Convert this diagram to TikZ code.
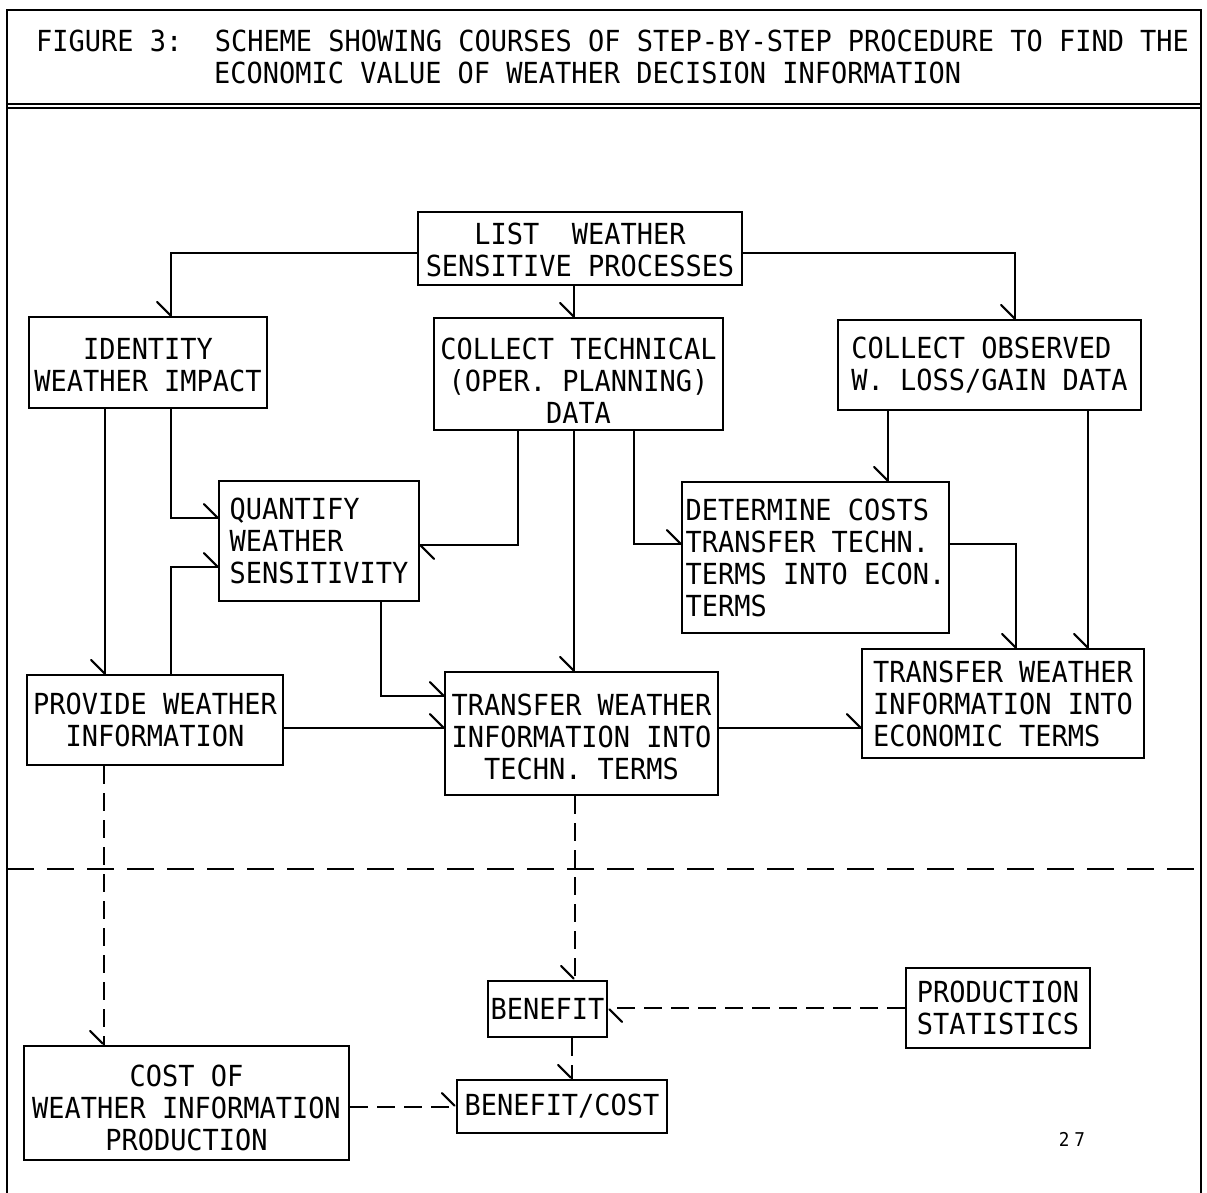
\documentclass[tikz,border=0pt]{standalone}
\usepackage{fontspec}
\newfontfamily\tw[FakeStretch=0.93]{DejaVu Sans Mono}
\usetikzlibrary{arrows.meta}

% Single-sided straight barbs, as on a drafting stencil.
% BarbL: barb on the left of the direction of travel; BarbR: on the right.
\pgfdeclarearrow{
  name = BarbL,
  parameters = {\the\pgfarrowlength},
  setup code = {
    \pgfarrowssettipend{0pt}
    \pgfarrowssetlineend{0pt}
    \pgfarrowssetbackend{-\pgfarrowlength}
    \pgfarrowssetvisualbackend{-\pgfarrowlength}
    \pgfarrowssavethe\pgfarrowlength
  },
  drawing code = {
    \pgfsetroundcap
    \pgfpathmoveto{\pgfqpoint{-\pgfarrowlength}{\pgfarrowlength}}
    \pgfpathlineto{\pgfpointorigin}
    \pgfusepathqstroke
  },
  defaults = {length = 14pt}
}
\pgfdeclarearrow{
  name = BarbR,
  parameters = {\the\pgfarrowlength},
  setup code = {
    \pgfarrowssettipend{0pt}
    \pgfarrowssetlineend{0pt}
    \pgfarrowssetbackend{-\pgfarrowlength}
    \pgfarrowssetvisualbackend{-\pgfarrowlength}
    \pgfarrowssavethe\pgfarrowlength
  },
  drawing code = {
    \pgfsetroundcap
    \pgfpathmoveto{\pgfqpoint{-\pgfarrowlength}{-\pgfarrowlength}}
    \pgfpathlineto{\pgfpointorigin}
    \pgfusepathqstroke
  },
  defaults = {length = 14pt}
}

% taller first line, which sets the text lower in its box
\newcommand{\lowerby}[1]{\rule{0pt}{#1}}

\begin{document}
\begin{tikzpicture}[x=1pt,y=-1pt,
  txt/.style={font=\tw\fontsize{29}{32}\selectfont},
  box/.style={txt, draw, line width=2.2pt, inner sep=0pt},
  boxc/.style 2 args={box, align=center, minimum width=#1, minimum height=#2},
  boxl/.style 2 args={box, align=left, minimum width=#1, minimum height=#2},
  link/.style={line width=2pt},
  down/.style={link, -{BarbR}},
  side/.style={link, -{BarbL}},
  brk/.style={dash pattern=on 18pt off 9pt},
  frame/.style={line width=2.6pt},
]
\useasboundingbox (0,0) rectangle (1207,1193);

% frame and title block
\coordinate (fTL) at (7,10);
\coordinate (fTR) at (1201,10);
\coordinate (fBL) at (7,1200);
\coordinate (fBR) at (1201,1200);
\coordinate (hL1) at (7,104);
\coordinate (hR1) at (1201,104);
\coordinate (hL2) at (7,108);
\coordinate (hR2) at (1201,108);
\coordinate (sepL) at (7,869);
\coordinate (sepR) at (1201,869);
\draw[frame] (fBL) -- (fTL) -- (fTR) -- (fBR);
\draw[line width=2pt] (hL1) -- (hR1);
\draw[line width=2pt] (hL2) -- (hR2);
\draw[link, dash pattern=on 27pt off 13pt] (sepL) -- (sepR);

\node[txt, anchor=base west, inner sep=0pt] (title1) at (36,52)
  {FIGURE 3:\ \ SCHEME SHOWING COURSES OF STEP-BY-STEP PROCEDURE TO FIND THE};
\node[txt, anchor=base west, inner sep=0pt] (title2) at (214,84)
  {ECONOMIC VALUE OF WEATHER DECISION INFORMATION};

% boxes
\node[boxc={324pt}{73pt}] (list) at (580,248.5) {\lowerby{25pt}LIST\ \ WEATHER\\SENSITIVE PROCESSES};
\node[boxc={238pt}{91pt}] (ident) at (148,362.5) {\lowerby{26pt}IDENTITY\\WEATHER IMPACT};
\node[boxc={289pt}{112pt}] (tech) at (578.5,374) {\lowerby{35pt}COLLECT TECHNICAL\\(OPER. PLANNING)\\DATA};
\node[boxl={303pt}{90pt}] (obs) at (989.5,365) {COLLECT OBSERVED\\W. LOSS/GAIN DATA};
\node[boxl={200pt}{120pt}] (quant) at (319,541) {QUANTIFY\\WEATHER\\SENSITIVITY};
\node[boxl={267pt}{151pt}] (determ) at (815.5,557.5) {DETERMINE COSTS\\TRANSFER TECHN.\\TERMS INTO ECON.\\TERMS};
\node[boxl={282pt}{109pt}] (tecon) at (1003,703.5) {TRANSFER WEATHER\\INFORMATION INTO\\ECONOMIC TERMS};
\node[boxc={256pt}{90pt}] (provide) at (155,720) {PROVIDE WEATHER\\INFORMATION};
\node[boxc={273pt}{123pt}] (ttech) at (581.5,733.5) {\lowerby{28pt}TRANSFER WEATHER\\INFORMATION INTO\\TECHN. TERMS};
\node[boxc={119pt}{56pt}] (benefit) at (547.5,1009) {BENEFIT};
\node[boxl={184pt}{80pt}] (prod) at (998,1008) {PRODUCTION\\STATISTICS};
\node[boxc={325pt}{114pt}] (cost) at (186.5,1103) {\lowerby{31pt}COST OF\\WEATHER INFORMATION\\PRODUCTION};
\node[boxc={210pt}{53pt}] (bcost) at (562,1106.5) {BENEFIT/COST};

\node[font=\tw\fontsize{19}{19}\selectfont, anchor=base, inner sep=0pt] (page) at (1072,1146) {2\kern5pt 7};

% solid connectors
\draw[down] ([yshift=-4.5pt]list.west) -| ([xshift=23pt]ident.north);
\draw[down] ([xshift=-6pt]list.south) -- ([xshift=-4.5pt]tech.north);
\draw[down] ([yshift=-4.5pt]list.east) -| ([xshift=25.5pt]obs.north);
\draw[down] ([xshift=-43pt]ident.south) -- ([xshift=-50pt]provide.north);
\draw[side] ([xshift=23pt]ident.south) |- ([yshift=23pt]quant.west);
\draw[side] ([xshift=-60.5pt]tech.south) |- ([yshift=-4pt]quant.east);
\draw[down] ([xshift=-4.5pt]tech.south) -- ([xshift=-7.5pt]ttech.north);
\draw[side] ([xshift=55.5pt]tech.south) |- ([yshift=13.5pt]determ.west);
\draw[down] ([xshift=-101.5pt]obs.south) -- ([xshift=72.5pt]determ.north);
\draw[down] ([xshift=98.5pt]obs.south) -- ([xshift=85pt]tecon.north);
\draw[down] ([yshift=13.5pt]determ.east) -| ([xshift=13pt]tecon.north);
\draw[side] ([xshift=16pt]provide.north) |- ([yshift=-26pt]quant.west);
\draw[side] ([xshift=62pt]quant.south) |- ([yshift=37.5pt]ttech.west);
\draw[side] ([yshift=-8pt]provide.east) -- ([yshift=5.5pt]ttech.west);
\draw[side] ([yshift=5.5pt]ttech.east) -- ([yshift=-24.5pt]tecon.west);

% dashed connectors
\draw[down,brk] ([xshift=-51pt]provide.south) -- ([xshift=-82.5pt]cost.north);
\draw[down,brk] ([xshift=-6.5pt]ttech.south) -- ([xshift=27.5pt]benefit.north);
\draw[side,brk] (prod.west) -- (prod.west -| benefit.east);
\draw[down,brk] ([xshift=24.5pt]benefit.south) -- ([xshift=10pt]bcost.north);
\draw[side,brk] ([yshift=-4pt]cost.east) -- ([yshift=-0.5pt]bcost.west);
\end{tikzpicture}
\end{document}
